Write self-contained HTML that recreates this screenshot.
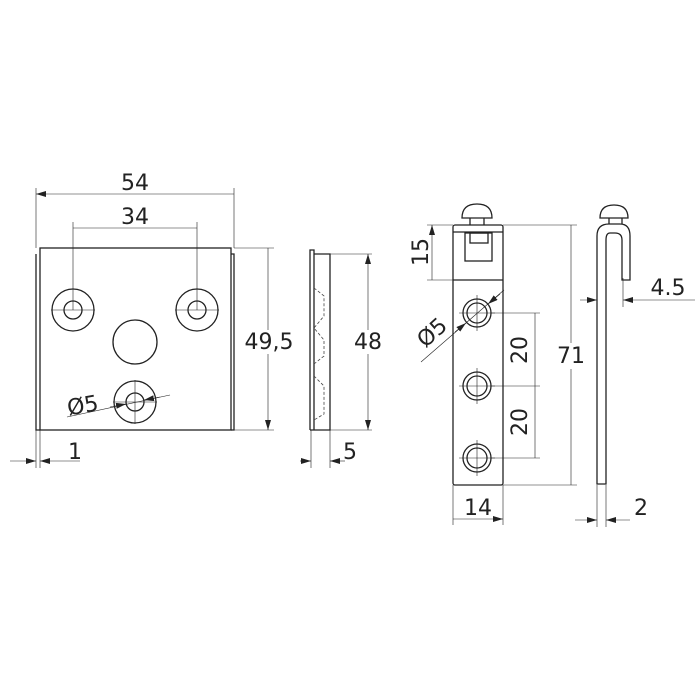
<!DOCTYPE html>
<html><head><style>body{margin:0;background:#fff}svg{display:block}text{font-family:"DejaVu Sans","Liberation Sans",sans-serif;fill:#222;font-size:22px}</style></head><body>
<svg width="700" height="700" viewBox="0 0 700 700">
<defs><marker id="a" viewBox="0 0 10 6" refX="10" refY="3" markerWidth="10" markerHeight="6" orient="auto-start-reverse" markerUnits="userSpaceOnUse"><path d="M0,0L10,3L0,6z" fill="#222"/></marker></defs>
<g stroke="#222" fill="none" stroke-width="1.3">
<rect x="40" y="248" width="191" height="182"/>
<path d="M36 254V430H40M231 254H234V430H231"/>
<circle cx="73" cy="310" r="21"/><circle cx="73" cy="310" r="9"/>
<circle cx="197" cy="310" r="21"/><circle cx="197" cy="310" r="9"/>
<circle cx="135" cy="342" r="22"/>
<circle cx="135" cy="402" r="21"/><circle cx="135" cy="402" r="9"/>
</g>
<g stroke="#222" fill="none" stroke-width="0.6">
<path d="M51 310H95M175 310H219M113 402H157M135 380V424"/>
<path d="M36 188V248M234 188V248M73 222V310M197 222V310M234 248H274M234 430H274M36 430V468M40 430V468"/>
<path d="M36 194H234M73 228H197M268 248V430" marker-start="url(#a)" marker-end="url(#a)"/>
<path d="M10 461H36" marker-end="url(#a)"/><path d="M80 461H40" marker-end="url(#a)"/>
<path d="M67 417L170 395"/><path d="M110 407L126 404" marker-end="url(#a)"/><path d="M160 397L144 400" marker-end="url(#a)"/>
<path d="M330 254H372M330 430H372M311 430V468M330 430V468"/>
<path d="M368 254V430" marker-start="url(#a)" marker-end="url(#a)"/>
<path d="M300 461H311" marker-end="url(#a)"/><path d="M345 461H330" marker-end="url(#a)"/>
</g>
<g stroke="#222" fill="none" stroke-width="1.3">
<path d="M310 430V250H314V430M314 254H330V430H310"/>
</g>
<g stroke="#444" fill="none" stroke-width="0.8" stroke-dasharray="3 2">
<path d="M314 288L324 296L324 316L314 328L324 340L324 356L314 364M314 376L324 386L324 414L314 420"/>
</g>
<g stroke="#222" fill="none" stroke-width="1.3">
<rect x="453" y="225" width="50" height="260" rx="2"/>
<path d="M453 280H503M453 232H503"/>
<rect x="465" y="233" width="27" height="28"/><rect x="470" y="233" width="18" height="10"/>
<path d="M470 225V218H484V225M462 218Q462 204 477 204Q492 204 492 218Z"/>
<circle cx="477" cy="313" r="14"/><circle cx="477" cy="313" r="10"/>
<circle cx="477" cy="386" r="14"/><circle cx="477" cy="386" r="10"/>
<circle cx="477" cy="458" r="14"/><circle cx="477" cy="458" r="10"/>
</g>
<g stroke="#222" fill="none" stroke-width="0.6">
<path d="M459 313H495M477 295V331M459 386H495M477 368V404M459 458H495M477 440V476"/>
<path d="M427 225H453M427 280H453M503 225H577M503 485H577M491 313H540M491 386H540M491 458H540M453 485V525M503 485V525"/>
<path d="M432 225V280M571 225V485M535 313V386M535 386V458M453 519H503" marker-start="url(#a)" marker-end="url(#a)"/>
<path d="M421 362L504 290"/><path d="M455 332L466 323" marker-end="url(#a)"/><path d="M500 294L488 304" marker-end="url(#a)"/>
<path d="M597 485V527M606 485V527M623 278V307M580 300H597" marker-end="url(#a)"/>
<path d="M597 278V307"/>
<path d="M695 300H623" marker-end="url(#a)"/>
<path d="M575 520H597" marker-end="url(#a)"/><path d="M630 520H606" marker-end="url(#a)"/>
</g>
<g stroke="#222" fill="none" stroke-width="1.3">
<path d="M597 484V236Q597 224 609 224H620Q630 224 630 236V280H622V240Q622 233 615 233H610Q606 233 606 240V484Z"/>
<path d="M609 224V218H622V224M600 218Q600 205 614 205Q628 205 628 218Z"/>
</g>
<text x="135" y="190" text-anchor="middle">54</text>
<text x="135" y="224" text-anchor="middle">34</text>
<rect x="245" y="330" width="48" height="24" fill="#fff"/><text x="269" y="349" text-anchor="middle">49,5</text>
<text x="67" y="413" transform="rotate(-10 82 405)">Ø5</text>
<text x="75" y="459" text-anchor="middle">1</text>
<rect x="354" y="330" width="28" height="24" fill="#fff"/><text x="368" y="349" text-anchor="middle">48</text>
<text x="350" y="459" text-anchor="middle">5</text>
<text transform="translate(428 252) rotate(-90)" text-anchor="middle">15</text>
<text transform="translate(437 338) rotate(-42)" text-anchor="middle">Ø5</text>
<text transform="translate(527 350) rotate(-90)" text-anchor="middle">20</text>
<text transform="translate(527 422) rotate(-90)" text-anchor="middle">20</text>
<rect x="557" y="343" width="28" height="26" fill="#fff"/><text x="571" y="363" text-anchor="middle">71</text>
<text x="478" y="515" text-anchor="middle">14</text>
<text x="668" y="295" text-anchor="middle">4.5</text>
<text x="641" y="515" text-anchor="middle">2</text>
</svg>
</body></html>
